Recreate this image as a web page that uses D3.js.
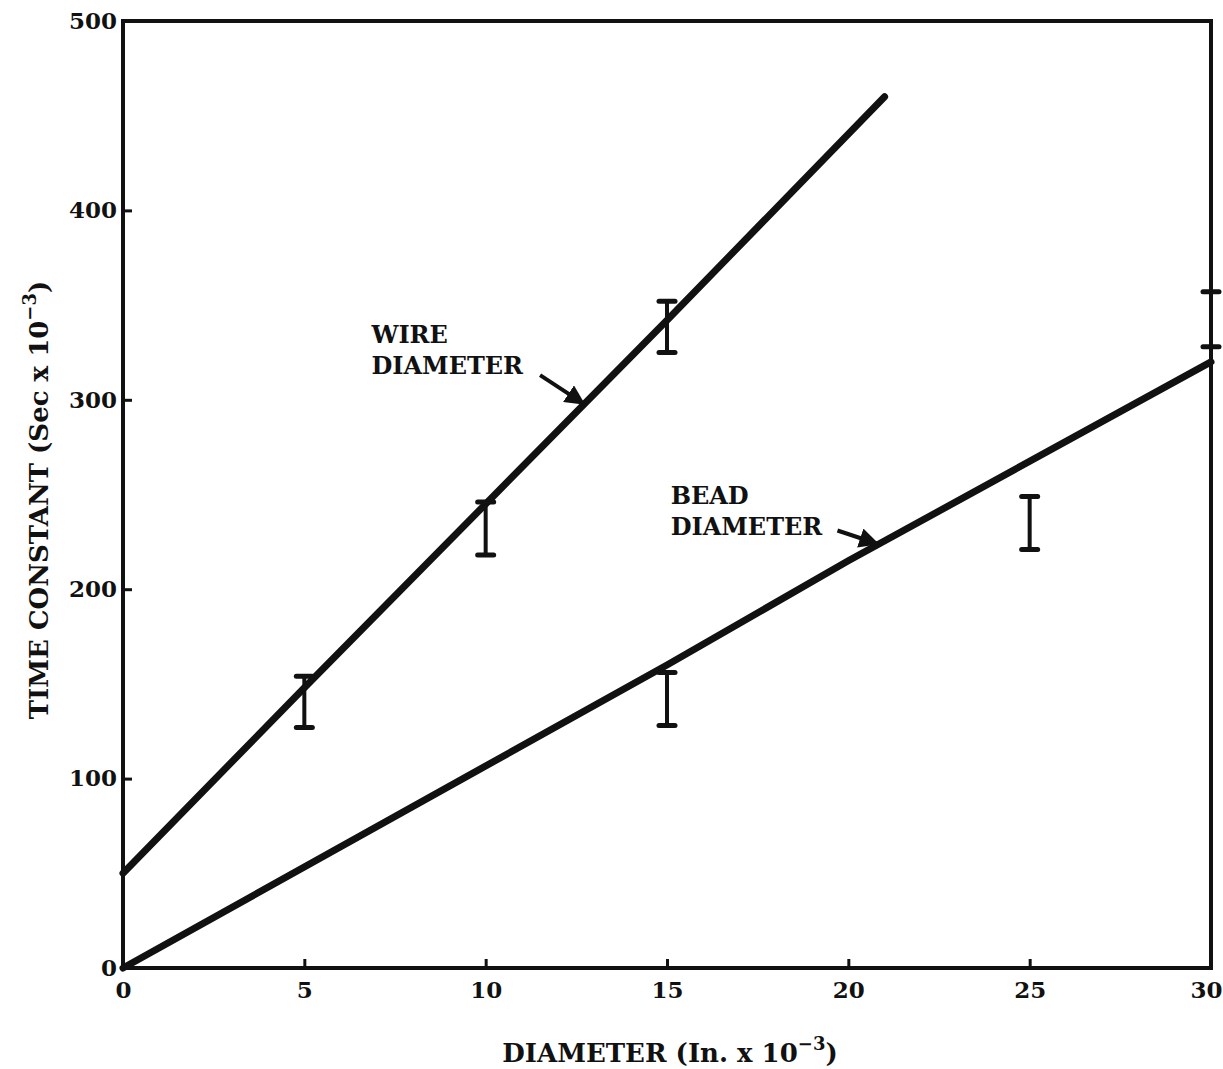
<!DOCTYPE html>
<html>
<head>
<meta charset="utf-8">
<script src="https://cdn.jsdelivr.net/npm/d3@7"></script>
<style>
  body { margin: 0; background: #fff; }
  text { font-family: "DejaVu Serif", "Liberation Serif", serif; fill: #111; }
  .tick text { font-size: 23px; font-weight: bold; }
  .label { font-size: 26px; font-weight: bold; }
  .note { font-size: 24px; font-weight: bold; }
</style>
</head>
<body>
<div id="chart"></div>
<script>
// values
let wireLine = [[0, 50], [5, 148], [10, 245], [15, 342], [21, 460]]
let beadLine = [[0, 0], [15, 160], [20, 215], [30, 320]]
let wireBars = [[5, 127, 154], [10, 218, 246], [15, 325, 352]]
let beadBars = [[15, 128, 156], [25, 221, 249], [30, 328, 357]]
let xTicks = [0, 5, 10, 15, 20, 25, 30]
let yTicks = [0, 100, 200, 300, 400, 500]

let margin = {top: 21, right: 12, bottom: 101, left: 123},
    width = 1223 - margin.left - margin.right,
    height = 1069 - margin.top - margin.bottom

let xScale = d3.scaleLinear().domain([0, 30]).range([0, width])
let yScale = d3.scaleLinear().domain([0, 500]).range([height, 0])

let svg = d3.select("#chart").append("svg")
    .attr("width", 1223)
    .attr("height", 1069)

svg.append("defs").append("marker")
    .attr("id", "head")
    .attr("viewBox", "0 0 10 10")
    .attr("refX", 9).attr("refY", 5)
    .attr("markerWidth", 5).attr("markerHeight", 5)
    .attr("orient", "auto")
  .append("path")
    .attr("d", "M0,0L10,5L0,10z")
    .attr("fill", "#111")

let g = svg.append("g")
    .attr("transform", "translate(" + margin.left + "," + margin.top + ")")

// frame
g.append("rect")
  .attr("width", width).attr("height", height)
  .attr("fill", "none").attr("stroke", "#111").attr("stroke-width", 4)

// axes, ticks pointing inward
g.append("g")
  .attr("transform", "translate(0," + height + ")")
  .call(d3.axisBottom(xScale).tickValues(xTicks).tickSize(-9).tickPadding(14))
g.append("g")
  .call(d3.axisLeft(yScale).tickValues(yTicks).tickSize(-9).tickPadding(6))

g.selectAll(".domain").remove()
g.selectAll(".tick line").attr("stroke", "#111").attr("stroke-width", 3)
g.selectAll(".tick text").attr("fill", "#111")
// last x label sits inside the right edge
g.selectAll(".tick text").filter(d => d === 30).attr("text-anchor", "end").attr("x", 11)

// axis titles
let xt = svg.append("text").attr("class", "label")
  .attr("text-anchor", "middle")
  .attr("x", 670).attr("y", 1062)
xt.append("tspan").text("DIAMETER (In. x 10")
xt.append("tspan").attr("dy", -12).attr("font-size", 18).text("−3")
xt.append("tspan").attr("dy", 12).text(")")

let yt = svg.append("text").attr("class", "label")
  .attr("text-anchor", "middle")
  .attr("transform", "translate(48,500) rotate(-90)")
yt.append("tspan").text("TIME CONSTANT (Sec x 10")
yt.append("tspan").attr("dy", -12).attr("font-size", 18).text("−3")
yt.append("tspan").attr("dy", 12).text(")")

// fitted lines
let line = d3.line().x(d => xScale(d[0])).y(d => yScale(d[1]))
g.selectAll(".fit").data([wireLine, beadLine]).enter().append("path")
  .attr("class", "fit")
  .attr("d", line)
  .attr("fill", "none").attr("stroke", "#111")
  .attr("stroke-width", 7).attr("stroke-linecap", "round")

// error bars
let bars = g.selectAll(".bar").data(wireBars.concat(beadBars)).enter().append("g")
  .attr("class", "bar")
bars.append("line")
  .attr("x1", d => xScale(d[0])).attr("x2", d => xScale(d[0]))
  .attr("y1", d => yScale(d[1])).attr("y2", d => yScale(d[2]))
  .attr("stroke", "#111").attr("stroke-width", 4)
bars.selectAll(".cap").data(d => [[d[0], d[1]], [d[0], d[2]]]).enter().append("line")
  .attr("x1", d => xScale(d[0]) - 8).attr("x2", d => xScale(d[0]) + 8)
  .attr("y1", d => yScale(d[1])).attr("y2", d => yScale(d[1]))
  .attr("stroke", "#111").attr("stroke-width", 5).attr("stroke-linecap", "round")

// labels with arrows
let notes = [
  {lines: ["WIRE", "DIAMETER"], x: 6.85, y: 330, from: [11.5, 313], to: [12.7, 298]},
  {lines: ["BEAD", "DIAMETER"], x: 15.1, y: 245, from: [19.7, 231], to: [20.8, 224]}
]
notes.forEach(n => {
  let t = g.append("text").attr("class", "note")
    .attr("x", xScale(n.x)).attr("y", yScale(n.y))
  n.lines.forEach((s, i) => {
    t.append("tspan").attr("x", xScale(n.x)).attr("dy", i ? 31 : 0).text(s)
  })
  g.append("line")
    .attr("x1", xScale(n.from[0])).attr("y1", yScale(n.from[1]))
    .attr("x2", xScale(n.to[0])).attr("y2", yScale(n.to[1]))
    .attr("stroke", "#111").attr("stroke-width", 4)
    .attr("marker-end", "url(#head)")
})
</script>
</body>
</html>
